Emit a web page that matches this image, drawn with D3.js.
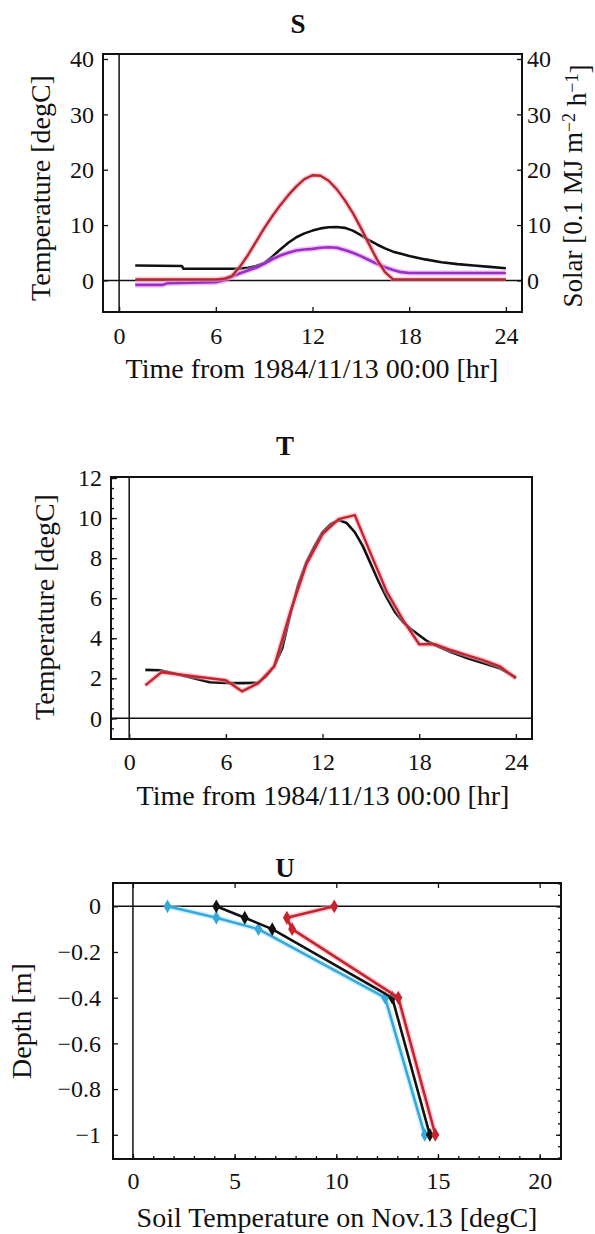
<!DOCTYPE html>
<html>
<head>
<meta charset="utf-8">
<script src="https://cdn.jsdelivr.net/npm/d3@7"></script>
<style>
  body { margin: 0; background: #fff; }
  svg text { font-family: "Liberation Serif", "Times New Roman", serif; fill: #111; }
</style>
</head>
<body>
<svg id="chart" width="595" height="1234"></svg>
<script>
// ---------- data ----------

// S : air temperature (black), soil surface temp (purple), solar (red) vs hour
const sTempHour = [1, 3.9, 4, 7, 7.5, 8, 8.5, 9, 9.5, 10, 10.5, 11, 11.5, 12, 12.5, 13, 13.5, 14, 14.5, 15, 15.5, 16, 16.5, 17, 17.5, 18, 19, 20, 21, 22, 23, 24];
const sTemp     = [2.7, 2.6, 2.1, 2.1, 2.15, 2.3, 2.6, 3.1, 4.3, 5.6, 6.8, 7.8, 8.5, 9.0, 9.4, 9.6, 9.65, 9.5, 9.0, 8.2, 7.3, 6.5, 5.8, 5.2, 4.8, 4.4, 3.8, 3.3, 2.95, 2.7, 2.45, 2.2];

const sSurfHour = [1, 2.7, 3, 6, 6.5, 7, 7.5, 8, 8.5, 9, 9.5, 10, 10.5, 11, 11.5, 12, 12.5, 13, 13.5, 14, 14.5, 15, 15.5, 16, 16.5, 17, 17.5, 18, 24];
const sSurf     = [-0.8, -0.8, -0.5, -0.3, 0.0, 0.7, 1.3, 1.8, 2.3, 3.0, 3.8, 4.5, 5.0, 5.4, 5.6, 5.7, 5.9, 6.0, 5.9, 5.5, 5.0, 4.4, 3.7, 3.0, 2.4, 1.9, 1.5, 1.35, 1.35];

const sSolarHour = [1, 6, 6.5, 7, 7.5, 8, 8.5, 9, 9.5, 10, 10.5, 11, 11.5, 12, 12.5, 13, 13.5, 14, 14.5, 15, 15.5, 16, 16.5, 17, 24];
const sSolar     = [0.2, 0.2, 0.3, 0.8, 2.5, 4.6, 7.0, 9.4, 11.6, 13.6, 15.4, 17.0, 18.3, 19.0, 18.9, 18.0, 16.5, 14.5, 12.2, 9.5, 6.6, 3.8, 1.5, 0.2, 0.2];

// T : simulated (black) and observed hourly (red) temperature
const tSimHour = [1, 1.9, 3, 4, 5, 6, 7, 8, 8.5, 9, 9.5, 10, 10.5, 11, 11.5, 12, 12.5, 13, 13.5, 14, 14.5, 15, 15.5, 16, 16.5, 17, 17.5, 18, 18.5, 19, 20, 21, 22, 23, 24];
const tSim     = [2.42, 2.4, 2.2, 2.0, 1.8, 1.77, 1.76, 1.78, 2.1, 2.6, 3.5, 5.2, 6.7, 7.8, 8.6, 9.3, 9.7, 9.9, 9.75, 9.3, 8.6, 7.7, 6.8, 6.0, 5.3, 4.8, 4.45, 4.15, 3.85, 3.65, 3.3, 3.0, 2.75, 2.5, 2.05];

const tObsHour = d3.range(1, 25);
const tObs     = [1.65, 2.3, 2.2, 2.1, 2.0, 1.9, 1.35, 1.75, 2.6, 5.3, 7.7, 9.2, 9.95, 10.15, 8.2, 6.3, 4.9, 3.7, 3.7, 3.4, 3.15, 2.9, 2.6, 2.0];

// U : soil temperature profiles
const uDepth = [0, -0.05, -0.1, -0.4, -1.0];
const uBlack = [4.1, 5.5, 6.85, 12.75, 14.6];
const uRed   = [9.9, 7.57, 7.83, 13.05, 14.87];
const uCyan  = [1.7, 4.1, 6.17, 12.4, 14.35];

// tick values
const sYTicks = [0, 10, 20, 30, 40];
const hourTicks = [0, 6, 12, 18, 24];
const tYTicks = [0, 2, 4, 6, 8, 10, 12];
const tYMinor = d3.range(-1, 12.01, 0.5);
const uXTicks = [0, 5, 10, 15, 20];
const uXMinor = d3.range(0, 21, 1);
const uYTicks = [0, -0.2, -0.4, -0.6, -0.8, -1];
const uYMinor = d3.range(-1.1, 0.1001, 0.05);

const svg = d3.select("#chart");

// ---------- helpers ----------
function makePanel(o) {
  const x = d3.scaleLinear().domain(o.xDomain).range([o.left, o.right]);
  const y = d3.scaleLinear().domain(o.yDomain).range([o.bottom, o.top]);
  const g = svg.append("g");

  // axis lines through the origin
  g.append("line")
   .attr("x1", o.left).attr("x2", o.right)
   .attr("y1", y(0)).attr("y2", y(0))
   .attr("stroke", "#111").attr("stroke-width", 1.5);
  g.append("line")
   .attr("x1", x(0)).attr("x2", x(0))
   .attr("y1", o.top).attr("y2", o.bottom)
   .attr("stroke", "#111").attr("stroke-width", 1.5);

  // title
  svg.append("text")
     .attr("x", o.titleX).attr("y", o.titleY)
     .attr("text-anchor", "middle")
     .style("font-size", "27px").style("font-weight", "bold")
     .text(o.title);

  return {g, x, y};
}

function styleAxis(sel, size) {
  sel.select(".domain").remove();
  sel.selectAll("line").attr("stroke", "#111").attr("stroke-width", 1.3);
  sel.selectAll("text")
     .style("font-family", '"Liberation Serif", "Times New Roman", serif')
     .style("font-size", size + "px")
     .attr("fill", "#111");
  sel.attr("font-family", null).attr("font-size", null);
}

function addAxis(g, axis, tx, ty, size) {
  const a = g.append("g").attr("transform", `translate(${tx},${ty})`).call(axis);
  styleAxis(a, size || 24);
  return a;
}

function addFrame(g, o) {
  g.append("rect")
   .attr("x", o.left).attr("y", o.top)
   .attr("width", o.right - o.left).attr("height", o.bottom - o.top)
   .attr("fill", "none").attr("stroke", "#111").attr("stroke-width", 2);
}

function yLabel(x, y, txt, size) {
  return svg.append("text")
     .attr("transform", `translate(${x},${y}) rotate(-90)`)
     .attr("text-anchor", "middle")
     .style("font-size", (size || 28) + "px")
     .text(txt);
}

function xLabel(x, y, txt) {
  svg.append("text")
     .attr("x", x).attr("y", y)
     .attr("text-anchor", "middle")
     .style("font-size", "28px")
     .text(txt);
}

function drawLine(g, x, y, xs, ys, color, width, halo) {
  const pts = xs.map((v, i) => [v, ys[i]]);
  const line = d3.line().x(d => x(d[0])).y(d => y(d[1]));
  if (halo) {
    g.append("path").datum(pts)
     .attr("fill", "none").attr("stroke", halo).attr("stroke-width", width + 3)
     .attr("stroke-linejoin", "round").attr("opacity", 0.5)
     .attr("d", line);
  }
  g.append("path").datum(pts)
   .attr("fill", "none").attr("stroke", color).attr("stroke-width", width)
   .attr("stroke-linejoin", "round")
   .attr("d", line);
}

const fmtMinus = v => v < 0 ? "\u2212" + d3.format("")(Math.abs(v)) : d3.format("")(v);

// ---------- S ----------
const S = {left: 103, right: 522, top: 54, bottom: 312, xDomain: [-1, 25], yDomain: [-5.7, 40.9],
           title: "S", titleX: 298, titleY: 33};
const ps = makePanel(S);

drawLine(ps.g, ps.x, ps.y, sTempHour, sTemp, "#111", 2.6);
drawLine(ps.g, ps.x, ps.y, sSurfHour, sSurf, "#9a2fc8", 2.6, "#e48cf0");
drawLine(ps.g, ps.x, ps.y, sSolarHour, sSolar, "#b8262e", 2.4, "#f4a0b4");

addAxis(ps.g, d3.axisLeft(ps.y).tickValues(sYTicks).tickSize(-5).tickPadding(9).tickFormat(d3.format("d")), S.left, 0);
addAxis(ps.g, d3.axisRight(ps.y).tickValues(sYTicks).tickSize(-5).tickPadding(5).tickFormat(d3.format("d")), S.right, 0);
addAxis(ps.g, d3.axisBottom(ps.x).tickValues(hourTicks).tickSize(-5).tickPadding(15).tickFormat(d3.format("d")), 0, S.bottom);
addFrame(ps.g, S);

yLabel(50, 188, "Temperature [degC]");
const solar = yLabel(582, 186, "Solar [0.1 MJ m", 27);
solar.append("tspan").attr("dy", "-0.4em").style("font-size", "18px").text("\u22122");
solar.append("tspan").attr("dy", "0.4em").text(" h");
solar.append("tspan").attr("dy", "-0.4em").style("font-size", "18px").text("\u22121");
solar.append("tspan").attr("dy", "0.4em").text("]");
xLabel(312, 378, "Time from 1984/11/13 00:00 [hr]");

// ---------- T ----------
const T = {left: 111, right: 532, top: 477, bottom: 739, xDomain: [-1.13, 25], yDomain: [-1.03, 12.05],
           title: "T", titleX: 285, titleY: 455};
const pt = makePanel(T);

drawLine(pt.g, pt.x, pt.y, tSimHour, tSim, "#111", 2.6);
drawLine(pt.g, pt.x, pt.y, tObsHour, tObs, "#c8232c", 2.4, "#f4a0b4");

addAxis(pt.g, d3.axisLeft(pt.y).tickValues(tYMinor).tickSize(-3).tickFormat(""), T.left, 0);
addAxis(pt.g, d3.axisLeft(pt.y).tickValues(tYTicks).tickSize(-6).tickPadding(9).tickFormat(d3.format("d")), T.left, 0);
addAxis(pt.g, d3.axisBottom(pt.x).tickValues(hourTicks).tickSize(-5).tickPadding(14).tickFormat(d3.format("d")), 0, T.bottom);
addFrame(pt.g, T);

yLabel(54, 607, "Temperature [degC]");
xLabel(323, 805, "Time from 1984/11/13 00:00 [hr]");

// ---------- U ----------
const U = {left: 113, right: 561, top: 883, bottom: 1159, xDomain: [-0.98, 21.05], yDomain: [-1.106, 0.102],
           title: "U", titleX: 285, titleY: 877};
const pu = makePanel(U);

const profiles = [
  {vals: uCyan, color: "#35a9dc", halo: "#a8e4f6"},
  {vals: uBlack, color: "#111"},
  {vals: uRed, color: "#c8232c", halo: "#f4a0b4"}
];
profiles.forEach(p => {
  drawLine(pu.g, pu.x, pu.y, p.vals, uDepth, p.color, 2.6, p.halo);
  pu.g.selectAll(null)
      .data(uDepth)
      .enter().append("path")
      .attr("d", d3.symbol(d3.symbolDiamond, 55))
      .attr("transform", (d, i) => `translate(${pu.x(p.vals[i])},${pu.y(d)})`)
      .attr("fill", p.color);
});

addAxis(pu.g, d3.axisLeft(pu.y).tickValues(uYTicks).tickSize(-5).tickPadding(12).tickFormat(fmtMinus), U.left, 0);
addAxis(pu.g, d3.axisRight(pu.y).tickValues(uYMinor).tickSize(-3).tickFormat(""), U.right, 0);
addAxis(pu.g, d3.axisRight(pu.y).tickValues(uYTicks).tickSize(-5).tickFormat(""), U.right, 0);
addAxis(pu.g, d3.axisBottom(pu.x).tickValues(uXMinor).tickSize(-3).tickFormat(""), 0, U.bottom);
addAxis(pu.g, d3.axisBottom(pu.x).tickValues(uXTicks).tickSize(-5).tickPadding(13).tickFormat(d3.format("d")), 0, U.bottom);
addAxis(pu.g, d3.axisTop(pu.x).tickValues(uXTicks).tickSize(-5).tickFormat(""), 0, U.top);
addFrame(pu.g, U);

yLabel(31, 1021, "Depth [m]");
xLabel(337, 1227, "Soil Temperature on Nov.13 [degC]");
</script>
</body>
</html>
